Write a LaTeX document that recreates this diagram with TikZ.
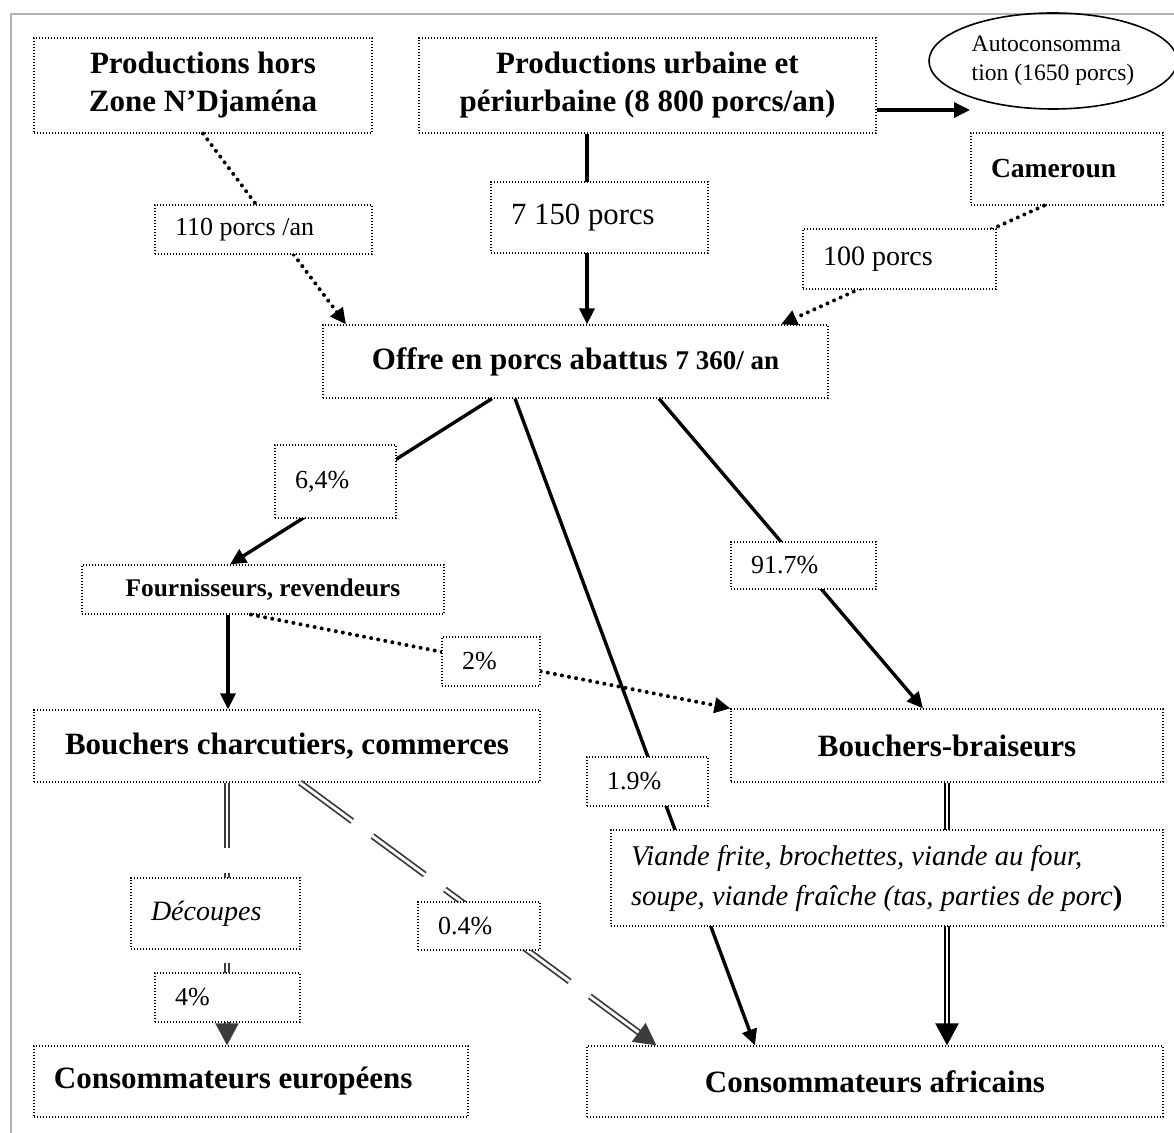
\documentclass[tikz,border=0pt]{standalone}
\usepackage{fontspec}
\setmainfont{Liberation Serif}
\usetikzlibrary{arrows.meta,shapes.geometric}
\definecolor{dgray}{HTML}{3C3C3C}

\begin{document}
\begin{tikzpicture}[x=0.5pt,y=-0.5pt,
  box/.style={draw,line width=0.6pt,dash pattern=on 0.6pt off 0.9pt,fill=white,inner sep=0pt,align=center},
  lbox/.style={box,align=flush left,inner xsep=10pt,text width=#1},
  hd/.style={font=\fontsize{15.5}{19}\selectfont\bfseries},
  lb/.style={font=\fontsize{13}{15}\selectfont},
  conn/.style={line width=1.7pt},
  tip/.style={-{Triangle[length=8pt,width=7.5pt]}},
  dots/.style={line width=2pt,line cap=round,dash pattern=on 0pt off 3.6pt},
  dbl/.style={draw=dgray,double=white,line width=0.9pt,double distance=1.4pt,dash pattern=on 32.5pt off 12.5pt},
  gtip/.style={-{Triangle[length=11pt,width=11.5pt]}}]
\useasboundingbox (0,0) rectangle (1174,1133);
\draw[gray!60,line width=0.6pt] (1174,14) -- (11,14) -- (11,1133);

\node[box,hd,minimum width=169pt,minimum height=47.5pt] (hors) at (203,85.5) {Productions hors\\Zone N’Djaména};
\node[box,hd,minimum width=228.5pt,minimum height=47.5pt] (urb) at (647.5,85.5) {Productions urbaine et\\périurbaine (8 800 porcs/an)};
\node[ellipse,draw,line width=0.8pt,minimum width=124pt,minimum height=48pt,inner sep=0pt,align=flush left,font=\fontsize{11.8}{14.5}\selectfont] (auto) at (1053,61) {Autoconsomma\\tion (1650 porcs)};
\node[lbox=76pt,minimum height=36pt,font=\fontsize{13.8}{16}\selectfont\bfseries] (cam) at (1067,169) {Cameroun};
\node[box,hd,minimum width=252.5pt,minimum height=36.5pt] (offre) at (575.5,361.5) {Offre en porcs abattus {\fontsize{13.5}{15}\selectfont 7 360/ an}};
\node[box,minimum width=181pt,minimum height=24.5pt,font=\fontsize{12.7}{15}\selectfont\bfseries] (four) at (263,589.5) {Fournisseurs, revendeurs};
\node[box,hd,minimum width=253pt,minimum height=36pt] (bouch) at (287,746) {Bouchers charcutiers, commerces};
\node[box,hd,minimum width=216pt,minimum height=36.5pt] (brais) at (947,745.5) {Bouchers-braiseurs};
\node[lbox=197pt,hd,minimum height=35.5pt] (europ) at (251,1081.5) {Consommateurs européens};
\node[box,hd,minimum width=288pt,minimum height=35.5pt] (afric) at (875,1081.5) {Consommateurs africains};

\draw[dots,tip] (hors.south) -- ([xshift=-114.75pt]offre.north);
\draw[conn,tip] ([xshift=-30.25pt]urb.south) -- ([xshift=5.75pt]offre.north);
\draw[conn,tip] ([yshift=-12.25pt]urb.east) -- ([xshift=-41.5pt,yshift=-24.5pt]auto.center);
\draw[dots,tip] ([xshift=-11.5pt]cam.south) -- ([xshift=102.75pt]offre.north);
\draw[conn,tip] ([xshift=-41.75pt]offre.south) -- ([xshift=-16.5pt]four.north);
\draw[conn,tip] ([xshift=-30.25pt]offre.south) -- ([xshift=-60pt]afric.north);
\draw[conn,tip] ([xshift=41.75pt]offre.south) -- ([xshift=-12pt]brais.north);
\draw[conn,tip] ([xshift=-17.5pt]four.south) -- ([xshift=-29.5pt]bouch.north);
\draw[dots,tip] ([xshift=-6pt]four.south) -- (brais.north west);
\draw[dbl,gtip] ([xshift=-30pt]bouch.south) -- ([xshift=-12pt]europ.north);
\draw[dbl,gtip] ([xshift=6.5pt]bouch.south) -- ([xshift=35pt]afric.north west);
\draw[double=white,line width=1pt,double distance=1.2pt,gtip] (brais.south) -- ([xshift=36pt]afric.north);

\node[lbox=88.5pt,lb,minimum height=24.5pt] (p110) at (263.5,229.5) {110 porcs /an};
\node[lbox=88.5pt,minimum height=35.5pt,font=\fontsize{15.4}{18}\selectfont] (p7150) at (599.5,217.5) {7 150 porcs};
\node[lbox=76.5pt,minimum height=30pt,font=\fontsize{14}{16}\selectfont] (p100) at (899.5,259) {100 porcs};
\node[lbox=40.5pt,lb,minimum height=36.5pt] (p64) at (335.5,481.5) {6,4\%};
\node[lbox=29pt,lb,minimum height=24.5pt] (p2) at (491,661.5) {2\%};
\node[lbox=52.5pt,lb,minimum height=23.5pt] (p917) at (803.5,565.5) {91.7\%};
\node[lbox=40.5pt,lb,minimum height=24.5pt] (p19) at (647.5,781.5) {1.9\%};
\node[lbox=256pt,minimum height=48pt,font=\fontsize{14.3}{20}\selectfont\itshape] (viande) at (887,878) {Viande frite, brochettes, viande au four,\\soupe, viande fraîche (tas, parties de porc\textbf{\upshape)}};
\node[lbox=64.5pt,minimum height=35.5pt,font=\fontsize{14}{16}\selectfont\itshape] (decoup) at (215.5,913.5) {Découpes};
\node[lbox=41pt,lb,minimum height=24pt] (p04) at (479,926) {0.4\%};
\node[lbox=52.5pt,lb,minimum height=24.5pt] (p4) at (227.5,997.5) {4\%};
\end{tikzpicture}
\end{document}
